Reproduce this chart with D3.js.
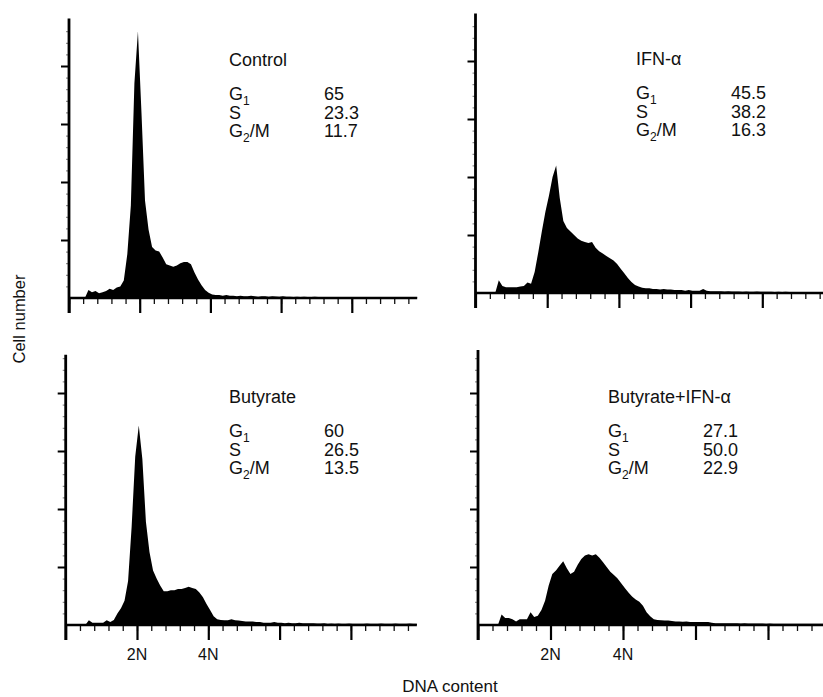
<!DOCTYPE html>
<html><head><meta charset="utf-8">
<script src="https://cdn.jsdelivr.net/npm/d3@7"></script>
<style>
body{margin:0;background:#fff}
svg{display:block}
text{font-family:"Liberation Sans",Arial,sans-serif;fill:#111}
</style>
</head><body>
<svg id="chart" width="823" height="697"></svg>
<script>
// DNA histograms: counts per 10-channel bin (bin centres 5, 15, ... 995)
const binCentres = d3.range(100).map(i => i * 10 + 5);

const controlCounts = [
  0,0,0,0,0, 7,5,6,4,5, 6,8,7,9,10, 15,38,80,185,230,
  160,84,59,44,41, 40,35,29,28,27, 28,30,31,31,29, 22,16,11,7,4.5,
  3,2.5,2.5,2,2.5, 2,2,1.5,2,1.5, 1.5,2,1.5,1,1.5, 1.5,1,1.5,1.2,1,
  1.5,1,1,0.8,1, 0.8,1,0.8,0.8,1, 0.8,0.6,0.8,0.6,0.8, 0.6,0.8,0.6,0.6,0.8,
  0.6,0.6,0.5,0.6,0.5, 0.6,0.5,0.5,0.6,0.5, 0.5,0.5,0.6,0.5,0.5, 0.5,0.5,0.5,0.5,0.5
];

const ifnCounts = [
  0,0,0,0,0, 0,11,6,5,5, 5,5,5.5,6,9, 8,18,35,53,70,
  84,100,110,82,62, 56,53,50,47,45, 44,43,44,39,36, 34,32,30,28,25,
  21,17,13,9.5,7, 5.5,4.5,4,4,3.5, 3.5,3,3.5,3,3, 2.5,2.5,2.5,2,2.5,
  2,2,2,3.5,2, 1.5,1.5,1.5,1.5,1.2, 1.5,1.2,1.2,1.2,1, 1.2,1,1,1.2,1,
  1,1,1,0.8,1, 0.8,1,0.8,0.8,0.8, 0.8,0.8,0.8,0.8,0.8, 0.8,0.8,0.8,0.8,0.8
];

const butyrateCounts = [
  0,0,0,0,0, 0,4,2,2,2, 2,4,2.5,4.3,10, 14.5,21,38,85,145,
  172,143,89,63,47, 40,34,29,29,30, 30,31,31,32,33, 32,31,28,24,18,
  13,7.5,5,4.3,4, 4,5,4,3.8,3.5, 3,3,3,2.5,2.5, 2,2,2,2.5,2,
  2,1.5,2,1.5,1.5, 2,1.5,1.5,1.5,1.5, 1.2,1.2,1.5,1,1.2, 1,1.2,1,1,1.2,
  1,1,1,1,1.2, 1,1,1,1.2,1, 1,1,1.2,1,1, 1,1.2,1,1,1
];

const comboCounts = [
  0,0,0,0,0, 0,9,6,6,5, 3,5,5,5,11, 7,8,13,21,34,
  44,47,51,55,49, 44,46,52,57,60, 61,60,61,58,54, 50,46,43,40,36,
  32,28,24.6,22,20, 16.5,11,7.5,5,4.3, 4,3.8,3.8,3.5,3, 3,2.8,3,2.5,2.5,
  2.5,2.5,2.5,2.5,2, 1.5,1.5,1.5,1.5,1.5, 1.5,1.5,1.2,1.5,1.2, 1.2,1.2,1.2,1.2,1,
  1.2,1,1,1,1, 1,1,1,1,1, 1,1,1,1,1, 1,1,1,1,1
];

// panel annotations
const panelNames = ["Control", "IFN-α", "Butyrate", "Butyrate+IFN-α"];
const phaseNames = ["G1", "S", "G2/M"];
const controlPhases = ["65", "23.3", "11.7"];
const ifnPhases = ["45.5", "38.2", "16.3"];
const butyratePhases = ["60", "26.5", "13.5"];
const comboPhases = ["27.1", "50.0", "22.9"];

// axis ticks (channels) and DNA-content labels
const majorTicks = [0, 200, 400, 600, 800];
const minorTicks = d3.range(0, 1000, 40);
const countTicks = [50, 100, 150, 200];
const countMinor = d3.range(10, 240, 10);
const ploidyChannels = [200, 400];
const ploidyLabels = ["2N", "4N"];

const xLabel = "DNA content";
const yLabel = "Cell number";

// panel frames
const panels = [
  {name: panelNames[0], counts: controlCounts, phases: controlPhases,
   x0: 69, span: 353.5, base: 298, yMax: 241, tx: 229, vx: 324, ty: 66, ploidy: false},
  {name: panelNames[1], counts: ifnCounts, phases: ifnPhases,
   x0: 475.5, span: 358.5, base: 293, yMax: 241, tx: 636, vx: 731, ty: 65, ploidy: false},
  {name: panelNames[2], counts: butyrateCounts, phases: butyratePhases,
   x0: 65.7, span: 356.5, base: 625, yMax: 233, tx: 229, vx: 324, ty: 403, ploidy: true},
  {name: panelNames[3], counts: comboCounts, phases: comboPhases,
   x0: 478, span: 362.5, base: 625, yMax: 237, tx: 608, vx: 703, ty: 403, ploidy: true}
];

const svg = d3.select("#chart");
const pxPerCount = 58 / 50;
const xEnd = 985;

function phaseLabel(sel, label) {
  const m = label.match(/^([A-Z])(\d)(.*)$/);
  if (!m) { sel.append("tspan").text(label); return; }
  sel.append("tspan").text(m[1]);
  sel.append("tspan").attr("font-size", 12).attr("dy", 5).text(m[2]);
  if (m[3]) sel.append("tspan").attr("dy", -5).text(m[3]);
}

panels.forEach(p => {
  const g = svg.append("g");
  const x = d3.scaleLinear().domain([0, 1000]).range([p.x0, p.x0 + p.span]);
  const y = d3.scaleLinear().domain([0, p.yMax]).range([p.base, p.base - p.yMax * pxPerCount]);

  // histogram
  const pts = binCentres.map((c, i) => ({c, v: p.counts[i]})).filter(d => d.c <= xEnd);
  const area = d3.area()
    .x(d => x(d.c))
    .y0(y(0))
    .y1(d => y(d.v))
    .curve(d3.curveLinear);
  g.append("path").datum(pts).attr("d", area).attr("fill", "#000");

  // x axis: minor then major ticks
  const xMinor = d3.axisBottom(x).tickValues(minorTicks.filter(t => t <= xEnd))
    .tickSize(6).tickFormat("");
  const xMajor = d3.axisBottom(x).tickValues(majorTicks).tickSize(15).tickFormat("");
  const gxm = g.append("g").attr("transform", `translate(0,${p.base})`).call(xMinor);
  gxm.select(".domain").remove();
  gxm.selectAll(".tick line").attr("stroke", "#111").attr("stroke-width", 1.3);
  const gxM = g.append("g").attr("transform", `translate(0,${p.base})`).call(xMajor);
  gxM.select(".domain").remove();
  gxM.selectAll(".tick line").attr("stroke", "#000").attr("stroke-width", 2.2);
  g.append("line")
    .attr("x1", x(0)).attr("x2", x(xEnd))
    .attr("y1", y(0)).attr("y2", y(0))
    .attr("stroke", "#000").attr("stroke-width", 2.6);

  // y axis
  const yMin = d3.axisLeft(y).tickValues(countMinor.filter(t => t < p.yMax))
    .tickSize(3).tickFormat("");
  const yMaj = d3.axisLeft(y).tickValues(countTicks).tickSize(8).tickFormat("");
  const gym = g.append("g").attr("transform", `translate(${x(0)},0)`).call(yMin);
  gym.select(".domain").remove();
  gym.selectAll(".tick line").attr("stroke", "#555").attr("stroke-width", 0.8);
  const gyM = g.append("g").attr("transform", `translate(${x(0)},0)`).call(yMaj);
  gyM.select(".domain").remove();
  gyM.selectAll(".tick line").attr("stroke", "#000").attr("stroke-width", 2);
  g.append("line")
    .attr("x1", x(0)).attr("x2", x(0))
    .attr("y1", y(p.yMax)).attr("y2", y(0) + 15)
    .attr("stroke", "#000").attr("stroke-width", 2.8);

  // ploidy labels under the lower panels
  if (p.ploidy) {
    g.selectAll("text.ploidy").data(ploidyChannels).join("text")
      .attr("class", "ploidy")
      .attr("x", d => x(d)).attr("y", p.base + 35)
      .attr("text-anchor", "middle").attr("font-size", 16)
      .text((d, i) => ploidyLabels[i]);
  }

  // treatment name and cell-cycle distribution
  g.append("text").attr("x", p.tx).attr("y", p.ty).attr("font-size", 18).text(p.name);
  const rowOffsets = [34.3, 53.3, 71.3];
  phaseNames.forEach((ph, i) => {
    const t = g.append("text").attr("x", p.tx).attr("y", p.ty + rowOffsets[i]).attr("font-size", 18);
    phaseLabel(t, ph);
    g.append("text").attr("x", p.vx).attr("y", p.ty + rowOffsets[i]).attr("font-size", 18)
      .text(p.phases[i]);
  });
});

// shared axis titles
svg.append("text").attr("x", 450).attr("y", 692).attr("text-anchor", "middle")
  .attr("font-size", 17).text(xLabel);
svg.append("text").attr("transform", "translate(25,319) rotate(-90)")
  .attr("text-anchor", "middle").attr("font-size", 16.5).text(yLabel);
</script>
</body></html>
